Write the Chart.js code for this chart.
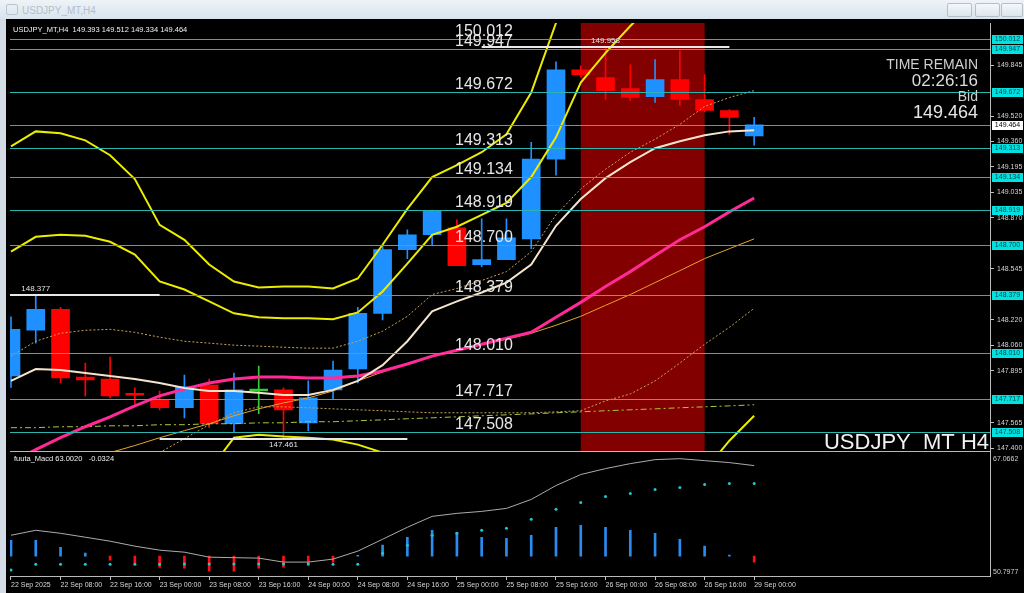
<!DOCTYPE html>
<html>
<head>
<meta charset="utf-8">
<script src="https://cdn.jsdelivr.net/npm/chart.js@4.4.1/dist/chart.umd.min.js"></script>
<style>
  html, body { margin: 0; padding: 0; background: #fff; }
  #win { position: relative; width: 1024px; height: 593px; overflow: hidden; background: #000; }
  #title { position: absolute; left: 0; top: 0; width: 1024px; height: 19px;
           background: linear-gradient(#eef3f8, #d9e3ec); font: 10px "Liberation Sans", Arial, sans-serif;
           color: #b3bfcb; line-height: 19px; }
  #title .ico { position: absolute; left: 6px; top: 4px; width: 10px; height: 9px; border: 1px solid #b9c6d2; border-radius: 2px; }
  #title .cap { position: absolute; left: 22px; top: 1px; }
  #title .btn { position: absolute; top: 3px; width: 23px; height: 12px; border: 1px solid #b4bfca; border-radius: 2px;
                background: linear-gradient(#f4f7fa, #dde5ec); }
  #lb { position: absolute; left: 0; top: 19px; width: 6px; height: 574px; background: #d3dce5; border-right: 1px solid #7d8790; }
  #cw { position: absolute; left: 6px; top: 19px; width: 1018px; height: 574px; }
</style>
</head>
<body>
<div id="win">
  <div id="title"><div class="ico"></div><div class="cap">USDJPY_MT,H4</div>
    <div class="btn" style="left:947px"></div><div class="btn" style="left:975px"></div><div class="btn" style="left:1001px;width:20px"></div>
  </div>
  <div id="lb"></div>
  <div id="cw"><canvas id="c" width="1018" height="574"></canvas></div>
</div>
<script>
// H4 bars, 22 Sep 00:00 .. 29 Sep 00:00
const tickIdx = [0, 2, 4, 6, 8, 10, 12, 14, 16, 18, 20, 22, 24, 26, 28, 30];
const timeLabels = ['22 Sep 2025', '22 Sep 08:00', '22 Sep 16:00', '23 Sep 00:00', '23 Sep 08:00', '23 Sep 16:00',
  '24 Sep 00:00', '24 Sep 08:00', '24 Sep 16:00', '25 Sep 00:00', '25 Sep 08:00', '25 Sep 16:00',
  '26 Sep 00:00', '26 Sep 08:00', '26 Sep 16:00', '29 Sep 00:00'];
const priceTicks = [149.845, 149.520, 149.360, 149.195, 149.035, 148.870, 148.545, 148.220, 148.060, 147.895, 147.565, 147.400];

const open  = [147.863, 148.154, 148.287, 147.856, 147.843, 147.745, 147.710, 147.660, 147.805, 147.558, 147.767, 147.774, 147.564, 147.774, 147.907, 148.262,
  148.668, 148.763, 148.807, 148.573, 148.604, 148.737, 149.245, 149.815, 149.765, 149.695, 149.644, 149.752, 149.625, 149.555, 149.393];
const high  = [148.240, 148.377, 148.300, 147.945, 147.983, 147.787, 147.767, 147.869, 147.843, 147.881, 147.926, 147.787, 147.831, 147.957, 148.300, 148.690,
  148.795, 148.920, 148.858, 148.865, 148.865, 149.353, 149.866, 149.840, 149.958, 149.847, 149.879, 149.936, 149.784, 149.561, 149.512];
const low   = [147.790, 148.072, 147.818, 147.736, 147.723, 147.685, 147.647, 147.596, 147.533, 147.501, 147.622, 147.461, 147.514, 147.717, 147.818, 148.220,
  148.611, 148.699, 148.566, 148.560, 148.604, 148.674, 149.143, 149.770, 149.625, 149.620, 149.606, 149.587, 149.548, 149.403, 149.334];
const close = [148.160, 148.287, 147.850, 147.837, 147.736, 147.740, 147.660, 147.793, 147.558, 147.774, 147.767, 147.647, 147.723, 147.901, 148.262, 148.668,
  148.763, 148.915, 148.566, 148.604, 148.744, 149.245, 149.815, 149.784, 149.682, 149.638, 149.752, 149.625, 149.555, 149.511, 149.464];

// bands and moving averages
const bbUp3 = [149.327, 149.422, 149.410, 149.365, 149.270, 149.118, 148.826, 148.731, 148.573, 148.465, 148.427, 148.433, 148.433, 148.420, 148.484, 148.699,
  148.928, 149.131, 149.207, 149.289, 149.403, 149.670, 150.113, 150.550, 150.800, 150.950, 151.050, 151.100, 151.100, 151.080, 151.050];
const bbUp2 = [148.655, 148.750, 148.763, 148.756, 148.718, 148.636, 148.465, 148.414, 148.338, 148.262, 148.237, 148.230, 148.230, 148.224, 148.268, 148.401,
  148.579, 148.763, 148.814, 148.890, 148.966, 149.131, 149.384, 149.733, 149.923, 150.094, 150.250, 150.350, 150.400, 150.420, 150.430];
const bbUp1 = [147.989, 148.084, 148.135, 148.154, 148.160, 148.141, 148.110, 148.084, 148.072, 148.059, 148.053, 148.046, 148.040, 148.040, 148.084, 148.148,
  148.243, 148.382, 148.420, 148.471, 148.528, 148.655, 148.890, 149.055, 149.181, 149.289, 149.372, 149.467, 149.581, 149.638, 149.682];
const bbMid = [147.311, 147.393, 147.469, 147.539, 147.602, 147.672, 147.736, 147.780, 147.818, 147.843, 147.856, 147.856, 147.850, 147.850, 147.863, 147.894,
  147.939, 147.989, 148.027, 148.065, 148.103, 148.141, 148.237, 148.332, 148.433, 148.528, 148.630, 148.731, 148.814, 148.909, 148.997];
const bbDn1 = [146.650, 146.750, 146.850, 146.950, 147.050, 147.200, 147.374, 147.463, 147.552, 147.628, 147.666, 147.666, 147.660, 147.653, 147.647, 147.641,
  147.634, 147.628, 147.628, 147.628, 147.628, 147.628, 147.634, 147.641, 147.704, 147.748, 147.831, 147.945, 148.065, 148.173, 148.294];
const bbDn2 = [146.950, 146.920, 146.950, 147.000, 147.050, 147.100, 147.160, 147.220, 147.260, 147.469, 147.488, 147.476, 147.469, 147.457, 147.425, 147.374,
  147.250, 147.100, 147.000, 146.950, 146.900, 146.850, 146.800, 146.850, 146.950, 147.050, 147.120, 147.200, 147.260, 147.450, 147.609];
const maFast = [147.831, 147.907, 147.901, 147.882, 147.863, 147.843, 147.818, 147.786, 147.767, 147.767, 147.755, 147.742, 147.742, 147.774, 147.831, 147.932,
  148.084, 148.275, 148.338, 148.395, 148.458, 148.573, 148.820, 148.991, 149.124, 149.226, 149.315, 149.359, 149.397, 149.422, 149.429];
const maSlow = [147.200, 147.240, 147.280, 147.323, 147.374, 147.419, 147.469, 147.514, 147.558, 147.609, 147.653, 147.691, 147.723, 147.767, 147.831, 147.888,
  147.939, 147.989, 148.027, 148.065, 148.097, 148.135, 148.186, 148.243, 148.313, 148.382, 148.458, 148.534, 148.611, 148.674, 148.737];
const maLong = [147.533, 147.533, 147.539, 147.539, 147.545, 147.545, 147.552, 147.552, 147.558, 147.558, 147.564, 147.564, 147.571, 147.571, 147.577, 147.583,
  147.590, 147.596, 147.602, 147.609, 147.615, 147.621, 147.628, 147.634, 147.641, 147.647, 147.653, 147.660, 147.666, 147.672, 147.679];

// sub window
const macdLine = [56.22, 56.88, 56.48, 55.96, 55.43, 54.77, 54.24, 53.97, 53.31, 53.24, 53.18, 52.65, 52.65, 53.05, 54.11, 55.69,
  57.28, 58.73, 59.13, 59.39, 59.79, 60.98, 62.83, 64.29, 65.08, 65.74, 66.27, 66.40, 66.14, 65.88, 65.48];
const macdHist = [55.56, 55.56, 54.63, 53.84, 52.91, 52.52, 51.99, 51.86, 51.46, 51.46, 51.86, 51.99, 52.25, 52.65, 53.55, 54.90,
  55.96, 56.88, 56.62, 55.96, 55.82, 56.22, 57.28, 57.54, 57.28, 56.88, 56.48, 55.69, 54.77, 53.57, 52.65];
const macdSignal = [51.59, 52.38, 52.38, 52.38, 52.38, 52.38, 52.38, 52.40, 52.40, 52.40, 52.40, 52.40, 52.40, 52.38, 52.38, 53.84,
  54.90, 56.22, 56.48, 56.88, 57.15, 58.34, 59.66, 60.58, 61.38, 61.78, 62.30, 62.57, 62.97, 63.10, 63.10];
const histBase = 53.44;

// objects on chart
const levels = [150.012, 149.947, 149.672, 149.313, 149.134, 148.919, 148.700, 148.379, 148.010, 147.717, 147.508];
const bid = 149.464;
const markIdx = [1, 11, 24];
const markVal = [148.377, 147.461, 149.958];
const shadeFrom = 23, shadeTo = 28;

const FONT = '"Liberation Sans", Arial, sans-serif';

function txt(g, s, x, y, size, color, align, base) {
  g.font = size + 'px ' + FONT;
  g.fillStyle = color;
  g.textAlign = align || 'left';
  g.textBaseline = base || 'middle';
  g.fillText(s, x, y);
}

function hline(g, x1, x2, py, color, w) {
  g.strokeStyle = color;
  g.lineWidth = w;
  g.beginPath();
  g.moveTo(x1, py);
  g.lineTo(x2, py);
  g.stroke();
}

const mt4 = {
  id: 'mt4',
  beforeDraw(c) {
    const g = c.ctx;
    g.save();
    g.fillStyle = '#000';
    g.fillRect(0, 0, c.width, c.height);
    g.restore();
  },
  beforeDatasetsDraw(c) {
    const g = c.ctx, xs = c.scales.x, ys = c.scales.y;
    const a = xs.getPixelForValue(shadeFrom), b = xs.getPixelForValue(shadeTo);
    g.save();
    g.fillStyle = '#820000';
    g.fillRect(a, ys.top, b - a, ys.bottom - ys.top);
    g.restore();
  },
  afterDatasetsDraw(c) {
    const g = c.ctx, xs = c.scales.x, ys = c.scales.y, ms = c.scales.y2;
    g.save();
    g.beginPath();
    g.rect(xs.left, ys.top, xs.right - xs.left, ys.bottom - ys.top);
    g.clip();

    levels.forEach(v => hline(g, xs.left, xs.right, Math.round(ys.getPixelForValue(v)) + 0.5, '#2cb5ae', 1));
    hline(g, xs.left, xs.right, Math.round(ys.getPixelForValue(bid)) + 0.5, '#8a8a8a', 1);

    // session high / low
    markIdx.forEach((k, j) => {
      const py = Math.round(ys.getPixelForValue(markVal[j]));
      hline(g, xs.getPixelForValue(k - 5), xs.getPixelForValue(k + 5), py, '#e8e8e8', 2);
      const up = markVal[j] === high[k];
      txt(g, markVal[j].toFixed(3), xs.getPixelForValue(k), up ? py - 6 : py + 6, 8, '#e0e0e0', 'center');
    });

    levels.forEach(v => txt(g, v.toFixed(3), xs.left + 445, ys.getPixelForValue(v) - 3, 16, '#e6e6e6', 'left', 'alphabetic'));

    txt(g, 'USDJPY_MT,H4  149.393 149.512 149.334 149.464', xs.left + 3, ys.top + 7, 7.5, '#f2f2f2');
    const rx = xs.right - 12;
    txt(g, 'TIME REMAIN', rx, ys.top + 42, 14, '#cfcfcf', 'right');
    txt(g, '02:26:16', rx, ys.top + 58, 17, '#dcdcdc', 'right');
    txt(g, 'Bid', rx, ys.top + 74, 14, '#cfcfcf', 'right');
    txt(g, '149.464', rx, ys.top + 90, 18, '#e6e6e6', 'right');
    txt(g, 'USDJPY_MT H4', xs.right - 1, ys.bottom - 3, 22, '#f2f2f2', 'right', 'alphabetic');
    g.restore();

    // frames
    g.save();
    g.strokeStyle = '#b9b9b9';
    g.lineWidth = 1;
    g.beginPath();
    g.moveTo(xs.right + 0.5, ys.top);
    g.lineTo(xs.right + 0.5, ms.bottom);
    g.stroke();
    hline(g, xs.left, xs.right, Math.round(ys.bottom) - 0.5, '#b9b9b9', 1);
    hline(g, xs.left, xs.right, Math.round(ms.bottom) - 0.5, '#b9b9b9', 1);

    // price boxes on the axis
    levels.forEach(v => {
      const py = Math.round(ys.getPixelForValue(v));
      g.fillStyle = '#00e2e2';
      g.fillRect(xs.right + 2, py - 4, 31, 9);
      txt(g, v.toFixed(3), xs.right + 17.5, py + 0.5, 7, '#004848', 'center');
    });
    const pb = Math.round(ys.getPixelForValue(bid));
    g.fillStyle = '#ffffff';
    g.fillRect(xs.right + 2, pb - 4, 31, 9);
    txt(g, bid.toFixed(3), xs.right + 17.5, pb + 0.5, 7, '#000', 'center');

    txt(g, 'fuuta_Macd 63.0020   -0.0324', xs.left + 4, ms.top + 7, 7.5, '#f0f0f0');
    txt(g, '67.0662', xs.right + 3, ms.top + 7, 7, '#d0d0d0');
    txt(g, '50.7977', xs.right + 3, ms.bottom - 5, 7, '#d0d0d0');
    g.restore();
  }
};

const candleColor = open.map((o, i) => close[i] > o ? '#1e90ff' : (close[i] < o ? '#ff0000' : '#32cd32'));
const histColor = macdHist.map(v => v >= histBase ? '#2a8cf0' : '#ff1010');

function priceLine(data, color, width, dash, order) {
  return {
    type: 'line', yAxisID: 'y', order: order,
    data: data.map((v, i) => ({ x: i, y: v })),
    borderColor: color, borderWidth: width, borderDash: dash || [],
    pointRadius: 0, tension: 0, clip: 0
  };
}

const ctx = document.getElementById('c').getContext('2d');

new Chart(ctx, {
  type: 'bar',
  data: {
    datasets: [
      { // wicks
        yAxisID: 'y', order: 21, grouped: false, barThickness: 1, clip: 0,
        data: low.map((l, i) => ({ x: i, y: [l, high[i]] })),
        backgroundColor: candleColor
      },
      { // bodies
        yAxisID: 'y', order: 20, grouped: false, barThickness: 18, minBarLength: 2, clip: 0,
        data: open.map((o, i) => ({ x: i, y: [o, close[i]] })),
        backgroundColor: candleColor
      },
      priceLine(bbUp3, '#ecec00', 2, null, 5),
      priceLine(bbUp2, '#ecec00', 2, null, 5),
      priceLine(bbDn2, '#ecec00', 2, null, 5),
      priceLine(bbUp1, '#c9a25a', 1, [2, 2], 6),
      priceLine(bbDn1, '#c9a25a', 1, [2, 2], 6),
      priceLine(maLong, '#a8c83a', 1, [6, 3, 2, 3], 7),
      priceLine(maSlow, '#e3a52a', 1, null, 4),
      priceLine(bbMid, '#ff2a96', 3, null, 3),
      priceLine(maFast, '#f4e4cc', 2, null, 2),
      { // sub window histogram
        yAxisID: 'y2', order: 12, grouped: false, barThickness: 2, clip: 0,
        data: macdHist.map((v, i) => ({ x: i, y: [histBase, v] })),
        backgroundColor: histColor
      },
      {
        type: 'line', yAxisID: 'y2', order: 11, clip: 0,
        data: macdLine.map((v, i) => ({ x: i, y: v })),
        borderColor: '#ababab', borderWidth: 1, pointRadius: 0, tension: 0
      },
      {
        type: 'line', yAxisID: 'y2', order: 10, clip: 0, showLine: false,
        data: macdSignal.map((v, i) => ({ x: i, y: v })),
        pointRadius: 1.5, pointBorderWidth: 0, pointBackgroundColor: '#22c4d4'
      }
    ]
  },
  options: {
    responsive: false,
    animation: false,
    events: [],
    layout: { padding: { left: 1, top: 1, right: 0, bottom: 0 } },
    plugins: { legend: { display: false }, tooltip: { enabled: false } },
    scales: {
      x: {
        type: 'linear', min: -0.04, max: 39.52, offset: false,
        grid: { offset: false, drawOnChartArea: false, color: '#c0c0c0', tickLength: 3 },
        border: { display: false },
        ticks: {
          align: 'start', autoSkip: false, maxRotation: 0, padding: 1,
          color: '#d8d8d8', font: { size: 7, family: FONT },
          callback: v => timeLabels[tickIdx.indexOf(v)]
        },
        afterBuildTicks: s => { s.ticks = tickIdx.map(v => ({ value: v })); },
        afterFit: s => { s.height = 16; s.paddingLeft = 0; s.paddingRight = 0; }
      },
      y: {
        type: 'linear', position: 'right', stack: 'pane', stackWeight: 431,
        min: 147.380, max: 150.113,
        grid: { drawOnChartArea: false, color: '#c0c0c0', tickLength: 4 },
        border: { display: false },
        ticks: {
          autoSkip: false, padding: 3, color: '#d4d4d4', font: { size: 7, family: FONT },
          callback: v => v.toFixed(3)
        },
        afterBuildTicks: s => { s.ticks = priceTicks.map(v => ({ value: v })); },
        afterFit: s => { s.width = 34; s.paddingTop = 0; s.paddingBottom = 0; }
      },
      y2: {
        type: 'linear', position: 'right', stack: 'pane', stackWeight: 126,
        min: 50.67, max: 67.33,
        grid: { display: false },
        border: { display: false },
        ticks: { display: false },
        afterFit: s => { s.width = 34; s.paddingTop = 0; s.paddingBottom = 0; }
      }
    }
  },
  plugins: [mt4]
});
</script>
</body>
</html>
